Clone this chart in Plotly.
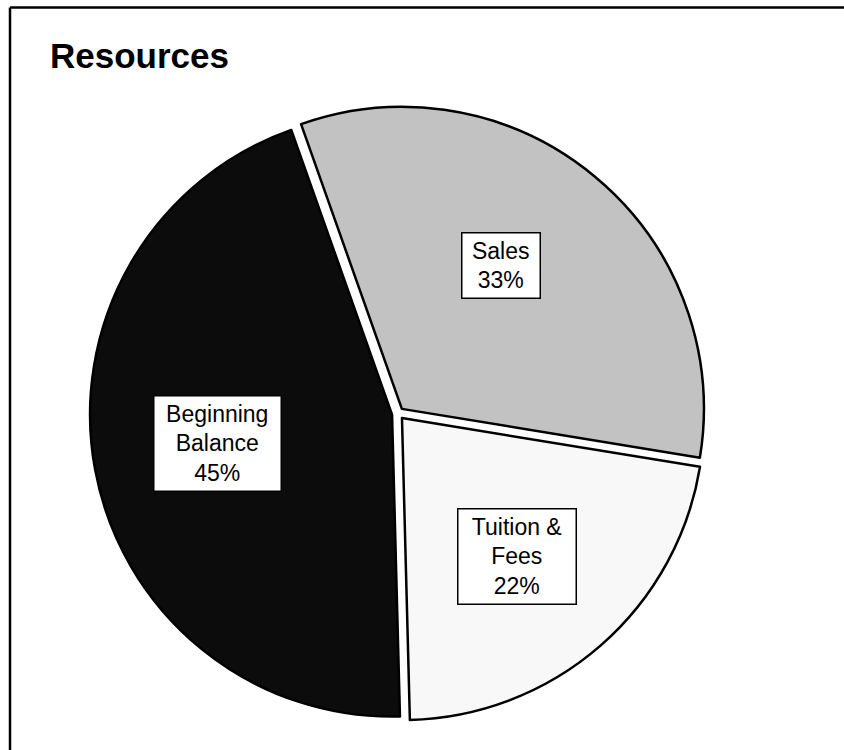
import plotly.graph_objects as go

# Resource breakdown (percent of total)
categories = ["Sales", "Tuition &<br>Fees", "Beginning<br>Balance"]
values = [33, 22, 45]
slice_colors = ["#c2c2c2", "#f8f8f8", "#0c0c0c"]

W, H = 844, 750

# Pie geometry (pixels): centre, radius and explode distance
CX, CY, R = 398.0, 413.5, 302.0
PULL = 0.02
half = R * (1 + PULL)

# Data-label boxes: centre (px) and box width (px)
label_boxes = [(501, 265.5, 78), (517, 556, 118), (217.5, 443.5, 127)]

FONT = "Arial, Liberation Sans, sans-serif"

fig = go.Figure(
    go.Pie(
        labels=categories,
        values=values,
        sort=False,
        direction="clockwise",
        rotation=-19.5,
        pull=[PULL] * len(values),
        marker=dict(colors=slice_colors, line=dict(color="#000000", width=2.5)),
        textinfo="none",
        hoverinfo="label+percent",
        showlegend=False,
        domain=dict(
            x=[(CX - half) / W, (CX + half) / W],
            y=[1 - (CY + half) / H, 1 - (CY - half) / H],
        ),
    )
)

PAD, BW = 4, 1.5
for cat, val, (bx, by, bw) in zip(categories, values, label_boxes):
    fig.add_annotation(
        x=bx / W,
        y=1 - by / H,
        xref="paper",
        yref="paper",
        xanchor="center",
        yanchor="middle",
        text=f"{cat}<br>{val}%",
        showarrow=False,
        align="center",
        width=bw - 2 * PAD - BW,
        font=dict(family=FONT, size=23, color="#000000"),
        bgcolor="#ffffff",
        bordercolor="#000000",
        borderwidth=BW,
        borderpad=PAD,
    )

# Frame lines along the top and left of the chart area
frame = dict(color="#000000", width=2.5)
fig.add_shape(type="line", xref="paper", yref="paper",
              x0=10 / W, x1=1.0, y0=1 - 7.5 / H, y1=1 - 7.5 / H, line=frame)
fig.add_shape(type="line", xref="paper", yref="paper",
              x0=10 / W, x1=10 / W, y0=0.0, y1=1 - 7.5 / H, line=frame)

fig.update_layout(
    width=W,
    height=H,
    margin=dict(l=0, r=0, t=0, b=0),
    paper_bgcolor="#ffffff",
    plot_bgcolor="#ffffff",
    title=dict(
        text="<b>Resources</b>",
        font=dict(family=FONT, size=35, color="#000000"),
        x=50 / W,
        xanchor="left",
        y=1 - 56 / H,
        yanchor="middle",
    ),
)

fig.write_html("out.html")
